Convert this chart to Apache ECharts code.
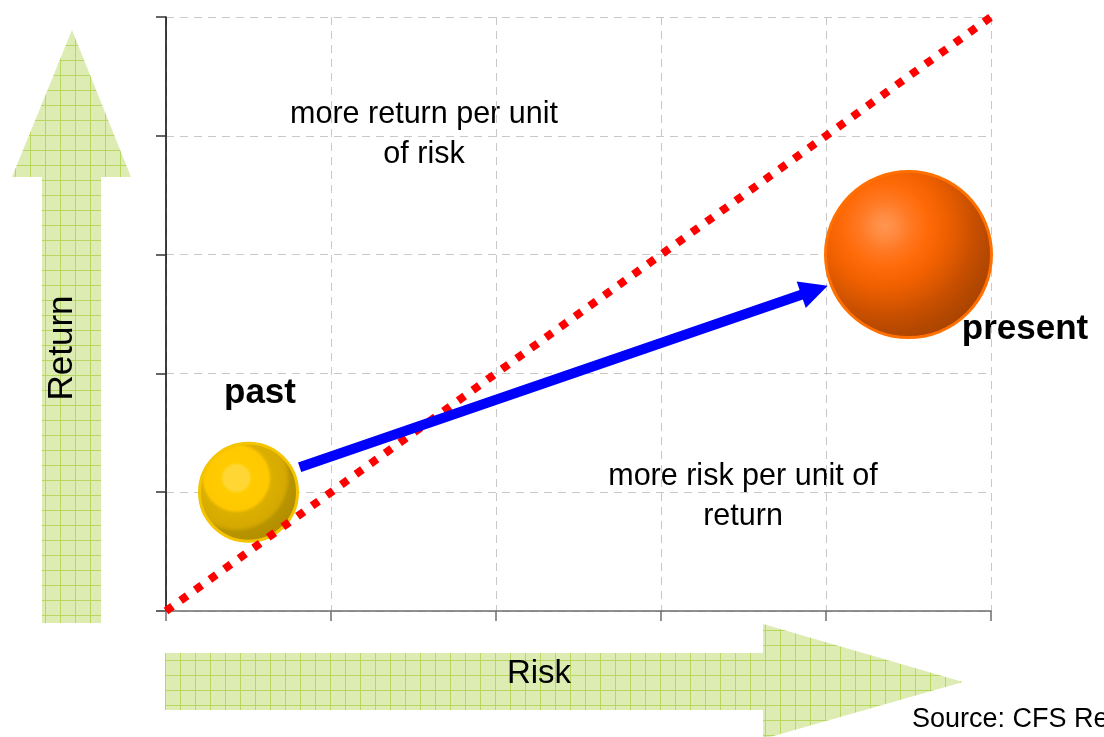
<!DOCTYPE html>
<html>
<head>
<meta charset="utf-8">
<title>Risk / Return</title>
<script src="https://cdn.jsdelivr.net/npm/echarts@6/dist/echarts.min.js"></script>
<style>
    html, body { margin: 0; padding: 0; background: #fff; }
    #main { width: 1104px; height: 737px; }
</style>
</head>
<body>
<div id="main"></div>
<script>
// axis range / ticks
var axisMin = 0;
var axisMax = 5;
var axisStep = 1;

// 45 degree line: equal return per unit of risk
var diagX = [0, 5.03];
var diagY = [0, 5.03];

// bubbles
var bubbleNames = ['past', 'present'];
var bubbleRisk = [0.5, 4.5];
var bubbleReturn = [1, 3];

// move from past to present
var moveFrom = [0.81, 1.21];
var moveTo = [3.93, 2.70];

var FONT = "'Liberation Sans', Arial, sans-serif";

// little squared paper for the green arrows
function makePattern() {
    var c = document.createElement('canvas');
    c.width = 15;
    c.height = 15;
    var ctx = c.getContext('2d');
    ctx.fillStyle = '#ddecb2';
    ctx.fillRect(0, 0, 15, 15);
    ctx.fillStyle = '#b9d760';
    ctx.fillRect(0, 0, 15, 1);
    ctx.fillRect(0, 0, 1, 15);
    return { image: c, repeat: 'repeat' };
}
var paper = makePattern();

var bubbleStyles = [
    {
        size: 98,
        color: new echarts.graphic.RadialGradient(0.38, 0.36, 0.7, [
            { offset: 0, color: '#ffd633' },
            { offset: 0.18, color: '#ffd633' },
            { offset: 0.22, color: '#ffcc00' },
            { offset: 0.45, color: '#ffc800' },
            { offset: 0.5, color: '#dcb000' },
            { offset: 0.7, color: '#d4a800' },
            { offset: 0.76, color: '#b89400' },
            { offset: 1, color: '#b08c00' }
        ]),
        border: '#f5c400'
    },
    {
        size: 166,
        color: new echarts.graphic.RadialGradient(0.36, 0.33, 0.72, [
            { offset: 0, color: '#ff9650' },
            { offset: 0.1, color: '#ff8a40' },
            { offset: 0.2, color: '#ff7a25' },
            { offset: 0.35, color: '#ff6a08' },
            { offset: 0.5, color: '#f06000' },
            { offset: 0.62, color: '#dc5800' },
            { offset: 0.75, color: '#c64e00' },
            { offset: 0.88, color: '#b44800' },
            { offset: 1, color: '#a84300' }
        ]),
        border: '#ff7000'
    }
];

var bubbleData = [];
for (var i = 0; i < bubbleNames.length; i++) {
    bubbleData.push({
        name: bubbleNames[i],
        value: [bubbleRisk[i], bubbleReturn[i]],
        symbolSize: bubbleStyles[i].size,
        itemStyle: {
            color: bubbleStyles[i].color,
            borderColor: bubbleStyles[i].border,
            borderWidth: 3,
            opacity: 1
        }
    });
}

var diagData = [];
for (var j = 0; j < diagX.length; j++) {
    diagData.push([diagX[j], diagY[j]]);
}

var option = {
    animation: false,
    backgroundColor: '#fff',
    grid: {
        left: 166,
        top: 17,
        right: 113,
        bottom: 126
    },
    xAxis: {
        type: 'value',
        min: axisMin,
        max: axisMax,
        interval: axisStep,
        axisLine: { show: true, lineStyle: { color: '#6e6e6e', width: 1.5 } },
        axisTick: { show: true, length: 10, lineStyle: { color: '#6e6e6e', width: 1.5 } },
        axisLabel: { show: false },
        splitLine: { show: true, lineStyle: { color: '#c8c8c8', type: [8, 6], width: 1 } }
    },
    yAxis: {
        type: 'value',
        min: axisMin,
        max: axisMax,
        interval: axisStep,
        axisLine: { show: true, lineStyle: { color: '#000', width: 1.5 } },
        axisTick: { show: true, length: 10, lineStyle: { color: '#333', width: 1.5 } },
        axisLabel: { show: false },
        splitLine: { show: true, lineStyle: { color: '#c8c8c8', type: [8, 6], width: 1 } }
    },
    graphic: [
        // Return arrow
        {
            type: 'polygon',
            z: -10,
            shape: { points: [[42, 623], [42, 177], [12, 177], [72, 30], [131, 177], [101, 177], [101, 623]] },
            style: { fill: paper }
        },
        // Risk arrow
        {
            type: 'polygon',
            z: -10,
            shape: { points: [[165, 653], [763, 653], [763, 624], [963, 682], [763, 739], [763, 710], [165, 710]] },
            style: { fill: paper }
        },
        {
            type: 'text',
            x: 62,
            y: 348,
            rotation: Math.PI / 2,
            style: { text: 'Return', font: '35px ' + FONT, fill: '#000', align: 'center', verticalAlign: 'middle' }
        },
        {
            type: 'text',
            x: 539,
            y: 674,
            style: { text: 'Risk', font: '33px ' + FONT, fill: '#000', align: 'center', verticalAlign: 'middle' }
        },
        {
            type: 'text',
            x: 424,
            y: 135,
            style: {
                text: 'more return per unit\nof risk',
                font: '30.5px ' + FONT,
                lineHeight: 40,
                fill: '#000',
                align: 'center',
                verticalAlign: 'middle'
            }
        },
        {
            type: 'text',
            x: 743,
            y: 497,
            style: {
                text: 'more risk per unit of\nreturn',
                font: '30.5px ' + FONT,
                lineHeight: 40,
                fill: '#000',
                align: 'center',
                verticalAlign: 'middle'
            }
        },
        {
            type: 'text',
            x: 260,
            y: 393,
            style: { text: 'past', font: 'bold 35px ' + FONT, fill: '#000', align: 'center', verticalAlign: 'middle' }
        },
        {
            type: 'text',
            x: 1025,
            y: 329,
            style: { text: 'present', font: 'bold 35px ' + FONT, fill: '#000', align: 'center', verticalAlign: 'middle' }
        },
        {
            type: 'text',
            x: 912,
            y: 720,
            style: { text: 'Source: CFS Research', font: '27px ' + FONT, fill: '#000', align: 'left', verticalAlign: 'middle' }
        }
    ],
    series: [
        {
            name: 'bubbles',
            type: 'scatter',
            z: 2,
            symbol: 'circle',
            data: bubbleData
        },
        {
            name: 'diagonal',
            type: 'line',
            z: 3,
            clip: false,
            symbol: 'none',
            lineStyle: { color: '#ff0000', width: 8, type: [8, 10], cap: 'butt' },
            data: diagData
        },
        {
            name: 'move',
            type: 'lines',
            coordinateSystem: 'cartesian2d',
            z: 4,
            symbol: ['none', 'triangle'],
            symbolSize: [0, 28],
            lineStyle: { color: '#0000ff', width: 10, opacity: 1 },
            data: [{ coords: [moveFrom, moveTo] }]
        }
    ]
};

var chart = echarts.init(document.getElementById('main'));
chart.setOption(option);
window.addEventListener('resize', function () {
    chart.resize();
});
</script>
</body>
</html>
